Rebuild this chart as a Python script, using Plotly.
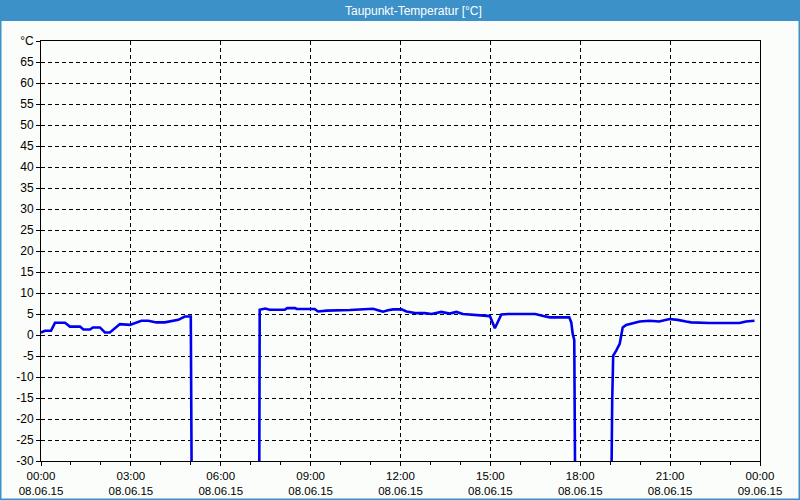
import plotly.graph_objects as go

DAY = "2015-06-08"
times = ["00:00", "00:08", "00:20", "00:28", "00:48", "00:58", "01:18", "01:25", "01:38", "01:44",
         "01:58", "02:08", "02:18", "02:28", "02:38", "02:58", "03:21", "03:35", "03:51", "04:08",
         "04:25", "04:35", "04:48", "05:00", "05:02",
         "07:17", "07:18", "07:29", "07:38", "08:08", "08:13", "08:29", "08:32", "09:08", "09:15",
         "09:32", "10:19", "11:05", "11:15", "11:25", "11:35", "11:45", "12:02", "12:12", "12:32",
         "12:49", "13:02", "13:22", "13:38", "13:52", "14:05", "14:38", "14:59", "15:09", "15:22",
         "15:36", "16:30", "16:46", "16:59", "17:38", "17:42", "17:45", "17:48", "17:50",
         "19:02", "19:04", "19:06", "19:12", "19:19", "19:22", "19:25", "19:32", "19:45", "19:59",
         "20:19", "20:38", "20:59", "21:15", "21:32", "21:42", "22:19", "23:19", "23:32", "23:49"]
dewpoint = [0.6, 1.0, 1.0, 2.9, 2.9, 2.0, 2.0, 1.3, 1.3, 1.8,
            1.8, 0.6, 0.6, 1.5, 2.6, 2.4, 3.4, 3.4, 3.0, 3.0,
            3.4, 3.6, 4.4, 4.4, -40,
            -40, 6.0, 6.3, 6.0, 6.0, 6.4, 6.4, 6.2, 6.2, 5.6,
            5.8, 5.95, 6.25, 5.9, 5.55, 5.9, 6.1, 6.1, 5.6, 5.2,
            5.2, 5.0, 5.5, 5.1, 5.5, 5.0, 4.7, 4.5, 1.6, 4.9,
            5.0, 5.0, 4.5, 4.2, 4.2, 3.0, 0.2, -1.2, -40,
            -40, -15.6, -4.9, -3.7, -2.1, -0.2, 1.8, 2.4, 2.85, 3.2,
            3.4, 3.2, 3.8, 3.6, 3.2, 3.0, 2.85, 2.85, 3.2, 3.4]

x_tickvals = ["2015-06-08 00:00", "2015-06-08 03:00", "2015-06-08 06:00", "2015-06-08 09:00",
              "2015-06-08 12:00", "2015-06-08 15:00", "2015-06-08 18:00", "2015-06-08 21:00",
              "2015-06-09 00:00"]
x_ticktext = ["00:00<br>08.06.15", "03:00<br>08.06.15", "06:00<br>08.06.15", "09:00<br>08.06.15",
              "12:00<br>08.06.15", "15:00<br>08.06.15", "18:00<br>08.06.15", "21:00<br>08.06.15",
              "00:00<br>09.06.15"]
y_tickvals = [-30, -25, -20, -15, -10, -5, 0, 5, 10, 15, 20, 25, 30, 35, 40, 45, 50, 55, 60, 65, 70]
y_ticktext = [str(v) for v in y_tickvals[:-1]] + ["°C"]
title_text = "Taupunkt-Temperatur [°C]"

x = [f"{DAY} {t}" for t in times]

W, H = 800, 500
L, R, T, B = 41, 40, 41, 39
pw, ph = W - L - R, H - T - B


def px(xp):
    return (xp - L) / pw


def py(yp):
    return (H - B - yp) / ph


BG = "#fbfdfb"
BLUE = "#3c91c8"
FONT = "Liberation Sans"

fig = go.Figure()
fig.add_trace(go.Scatter(x=x, y=dewpoint, mode="lines",
                         line=dict(color="#0000f0", width=2.6), cliponaxis=True,
                         hoverinfo="skip", showlegend=False))

fig.update_layout(
    width=W, height=H,
    margin=dict(l=L, r=R, t=T, b=B, autoexpand=False),
    paper_bgcolor=BG, plot_bgcolor=BG,
    font=dict(family=FONT, size=12, color="#000000"),
    showlegend=False,
    xaxis=dict(type="date", range=["2015-06-08 00:00", "2015-06-09 00:00"],
               tickmode="array", tickvals=x_tickvals, ticktext=x_ticktext,
               showgrid=True, gridcolor="#000000", griddash="4px,3px", gridwidth=1,
               showline=True, linecolor="#000000", linewidth=1, mirror=True,
               ticks="outside", ticklen=4, tickcolor="#000000", tickwidth=1,
               minor=dict(dtick=3600000, ticks="outside", ticklen=3, tickcolor="#000000", showgrid=False),
               zeroline=False, tickfont=dict(size=11.5), ticklabelstandoff=0, automargin=False),
    yaxis=dict(range=[-30, 70], tickmode="array", tickvals=y_tickvals, ticktext=y_ticktext,
               showgrid=True, gridcolor="#000000", griddash="4px,3px", gridwidth=1,
               showline=True, linecolor="#000000", linewidth=1, mirror=True,
               ticks="outside", ticklen=4, tickcolor="#000000", tickwidth=1,
               zeroline=False, tickfont=dict(size=12), ticklabelstandoff=0, automargin=False),
)

# title bar
fig.add_shape(type="rect", xref="paper", yref="paper",
              x0=px(0), x1=px(W), y0=py(21), y1=py(0),
              fillcolor=BLUE, line=dict(width=0), layer="above")
# window frame
fig.add_shape(type="rect", xref="paper", yref="paper",
              x0=px(0), x1=px(W), y0=py(H), y1=py(0),
              fillcolor="rgba(0,0,0,0)", line=dict(color=BLUE, width=3), layer="above")
fig.add_annotation(text=title_text, xref="paper", yref="paper",
                   x=px(413), y=py(10.5), xanchor="center", yanchor="middle",
                   showarrow=False, font=dict(family=FONT, size=12, color="#ffffff"))

fig.write_html("out.html")
